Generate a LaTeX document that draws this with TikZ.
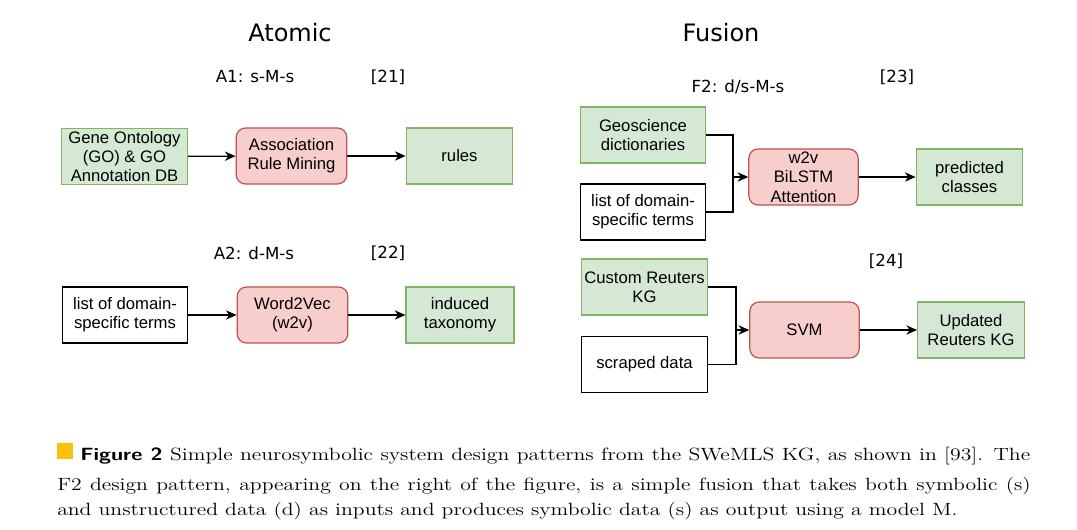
\documentclass[tikz,border=0pt]{standalone}
\usepackage{fontspec}
\usetikzlibrary{positioning,arrows.meta}
\newfontfamily\boxfont{Liberation Sans}
\newfontfamily\headfont{DejaVu Sans}
\definecolor{symfill}{HTML}{D5E8D4}
\definecolor{symdraw}{HTML}{82B366}
\definecolor{modfill}{HTML}{F8CECC}
\definecolor{moddraw}{HTML}{B85450}
\definecolor{capyellow}{HTML}{FCC10F}
\newcommand{\capline}[1]{\scalebox{1.225}[1]{#1}}
\begin{document}
\begin{tikzpicture}[x=0.75pt,y=-0.75pt,
  box/.style={draw,line width=0.9pt,inner sep=1pt,align=center,minimum height=42pt,
    font=\boxfont\fontsize{12.5}{14.5}\selectfont},
  sym/.style={box,fill=symfill,draw=symdraw},
  dat/.style={box,fill=white,draw=black},
  model/.style={box,fill=modfill,draw=moddraw,rounded corners=7pt,minimum width=83pt},
  title/.style={font=\headfont\fontsize{18}{20}\selectfont},
  pattern/.style={font=\headfont\fontsize{12.5}{14}\selectfont},
  capt/.style={anchor=base west,inner sep=0pt,font=\fontsize{13.3}{16}\selectfont},
  flow/.style={-{Stealth[length=8pt,width=7pt,inset=2.5pt]},line width=0.9pt}]
\useasboundingbox[fill=white](0,0)rectangle(1077,530);
% headings
\node[title](atomic)at(290,33){Atomic};
\node[title](fusion)at(721,33){Fusion};
\node[pattern](a1)at(255,77){A1: s-M-s};
\node[pattern](r21)at(388,77){[21]};
\node[pattern](a2)at(254,253){A2: d-M-s};
\node[pattern](r22)at(388,253){[22]};
\node[pattern](f2)at(738,87){F2: d/s-M-s};
\node[pattern](r23)at(897,77){[23]};
\node[pattern](r24)at(886,261){[24]};
% A1
\node[sym,minimum width=94pt](go)at(124.5,156.5){Gene Ontology\\(GO) \& GO\\Annotation DB};
\node[model](arm)at(291.5,156){Association\\Rule Mining};
\node[sym,minimum width=80pt](rules)at(459.5,156){rules};
\draw[flow](go)--(arm);
\draw[flow](arm)--(rules);
% A2
\node[dat,minimum width=94pt](terms)at(125,315){list of domain-\\specific terms};
\node[model](wordvec)at(292.5,315){Word2Vec\\(w2v)};
\node[sym,minimum width=81pt](taxo)at(460,315){induced\\taxonomy};
\draw[flow](terms)--(wordvec);
\draw[flow](wordvec)--(taxo);
% F2
\node[sym,minimum width=94pt](geo)at(643,135){Geoscience\\dictionaries};
\node[dat,minimum width=94pt](fterms)at(643,212){list of domain-\\specific terms};
\node[model,minimum width=82pt](bilstm)at(803.5,177){w2v\\BiLSTM\\Attention};
\node[sym,minimum width=80pt](classes)at(969.5,177){predicted\\classes};
\coordinate(join1)at(733,177);
\draw[line width=0.9pt](geo.east)-|(join1);
\draw[line width=0.9pt](fterms.east)-|(join1);
\draw[flow](join1)--(bilstm);
\draw[flow](bilstm)--(classes);
% F2 second example
\node[sym,minimum width=94pt](reuters)at(644.5,287){Custom Reuters\\KG};
\node[dat,minimum width=94pt](scraped)at(644.5,364.5){scraped data};
\node[model,minimum width=82pt](svm)at(804.5,330){SVM};
\node[sym,minimum width=80pt](updated)at(971,330){Updated\\Reuters KG};
\coordinate(join2)at(736,330);
\draw[line width=0.9pt](reuters.east)-|(join2);
\draw[line width=0.9pt](scraped.east)-|(join2);
\draw[flow](join2)--(svm);
\draw[flow](svm)--(updated);
% caption
\fill[capyellow](57,443)rectangle(73,459);
\node[capt](cap1)at(80,460){\capline{\makebox[581.6pt][s]{\textsf{\bfseries Figure~2} Simple neurosymbolic system design patterns from the SWeMLS KG, as shown in [93]. The}}};
\node[capt](cap2)at(57,490){\capline{\makebox[596pt][s]{F2 design pattern, appearing on the right of the figure, is a simple fusion that takes both symbolic (s)}}};
\node[capt](cap3)at(57,515){\capline{and unstructured data (d) as inputs and produces symbolic data (s) as output using a model M.}};
\end{tikzpicture}
\end{document}
